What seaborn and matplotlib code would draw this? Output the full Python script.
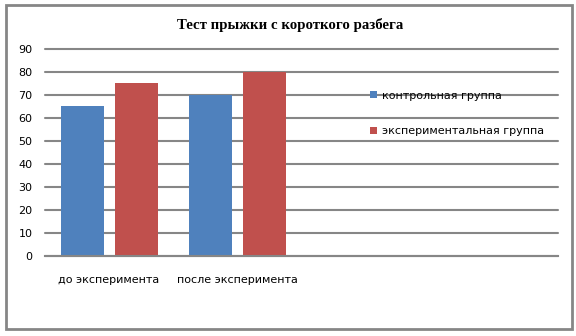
import matplotlib
matplotlib.use("Agg")
import matplotlib.pyplot as plt
import seaborn as sns
import pandas as pd
from matplotlib.patches import Rectangle, Patch

categories = ["до эксперимента", "после эксперимента"]
series = ["контрольная группа", "экспериментальная группа"]
control = [65, 70]
experimental = [75, 80]
colors = ["#4F81BD", "#C0504D"]
title = "Тест прыжки с короткого разбега"

df = pd.DataFrame({
    "cat": categories * 2,
    "group": [series[0]] * 2 + [series[1]] * 2,
    "value": control + experimental,
})

sns.set_style("white")
plt.rcParams["font.family"] = ["DejaVu Sans"]
plt.rcParams["text.color"] = "black"

fig = plt.figure(figsize=(5.76, 3.36), dpi=100)
ax = fig.add_axes([45/576, 1-256/336, (558-45)/576, (256-49)/336])

sns.barplot(data=df, x="cat", y="value", hue="group", order=categories,
            hue_order=series, palette=colors, width=0.84, gap=0.2,
            saturation=1, linewidth=0, edgecolor="none", ax=ax, legend=False)

ax.set_xlim(-0.5, 3.5)
ax.set_ylim(0, 90)
ax.set_yticks(range(0, 91, 10))
ax.yaxis.grid(True, color="#868686", linewidth=1.5)
for gl in ax.get_ygridlines():
    gl.set_clip_on(False)
ax.set_axisbelow(True)
for s in ["top", "right", "left"]:
    ax.spines[s].set_visible(False)
ax.spines["bottom"].set_color("#868686")
ax.spines["bottom"].set_linewidth(1.5)
ax.set_xlabel("")
ax.set_ylabel("")
ax.tick_params(axis="both", length=0, labelsize=8, colors="black")
ax.tick_params(axis="y", pad=9)
ax.tick_params(axis="x", pad=14)

fig.text(290/576, 1-25/336, title, ha="center", va="center", color="black",
         fontsize=10.7, fontweight="bold", family="Liberation Serif")

handles = [Patch(facecolor=c, edgecolor="none") for c in colors]
fig.legend(handles, series, loc="center left",
           bbox_to_anchor=(370/576, 1-113.5/336), frameon=False,
           fontsize=8, handlelength=0.6, handleheight=0.6,
           handletextpad=0.45, labelspacing=2.3, borderpad=0, borderaxespad=0)

fig.patches.append(Rectangle((6/576, 1-329/336), 566/576, 324/336,
                             transform=fig.transFigure, fill=False,
                             edgecolor="#868686", linewidth=2))

fig.savefig("out.png", dpi=100)
